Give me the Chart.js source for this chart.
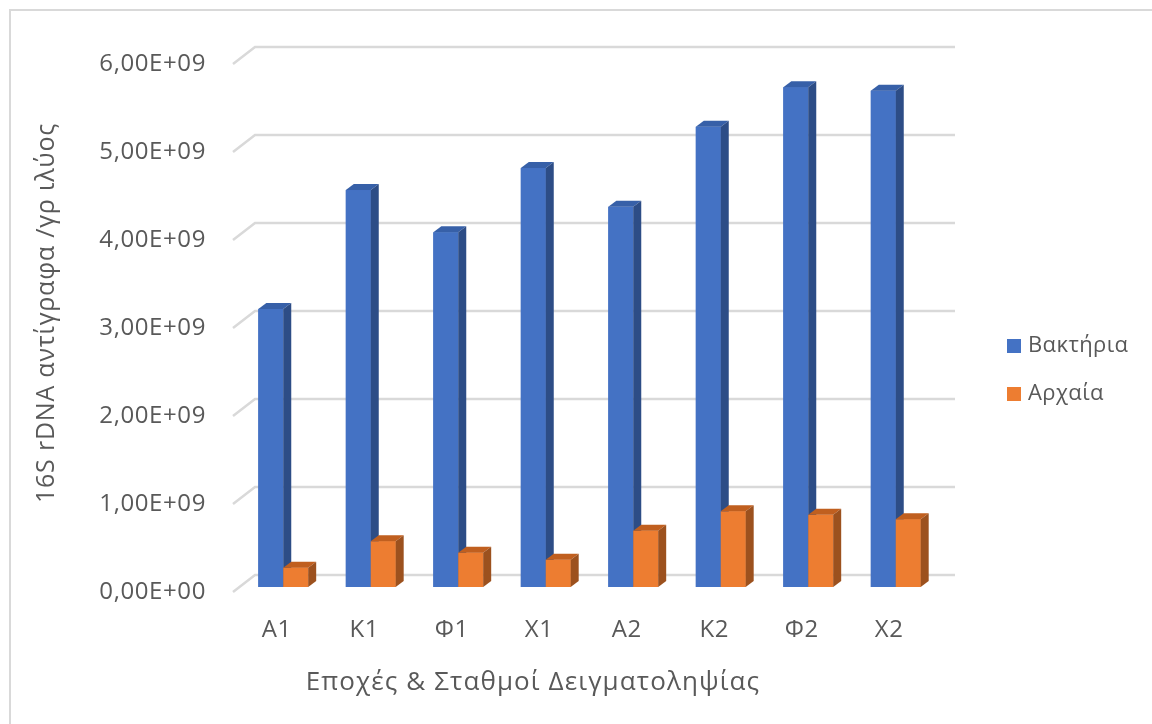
<!DOCTYPE html>
<html>
<head>
<meta charset="utf-8">
<script src="https://cdn.jsdelivr.net/npm/chart.js@4/dist/chart.umd.min.js"></script>
<style>
  html, body { margin: 0; padding: 0; background: #ffffff; }
  #wrap { position: relative; width: 1152px; height: 724px; }
</style>
</head>
<body>
<div id="wrap"><canvas id="c" width="1152" height="724"></canvas></div>
<script>
// Sampling stations / seasons
const categories = ['Α1', 'Κ1', 'Φ1', 'Χ1', 'Α2', 'Κ2', 'Φ2', 'Χ2'];
// 16S rDNA copies per gram of sediment
const bacteria = [3.16e9, 4.51e9, 4.03e9, 4.76e9, 4.32e9, 5.23e9, 5.68e9, 5.64e9];
const archaea  = [0.22e9, 0.52e9, 0.39e9, 0.31e9, 0.64e9, 0.86e9, 0.82e9, 0.77e9];
// Value axis
const yTickValues = [0, 1e9, 2e9, 3e9, 4e9, 5e9, 6e9];
const yTickLabels = ['0,00E+00', '1,00E+09', '2,00E+09', '3,00E+09', '4,00E+09', '5,00E+09', '6,00E+09'];
const seriesNames = ['Βακτήρια', 'Αρχαία'];
const yTitle = '16S rDNA αντίγραφα /γρ ιλύος';
const xTitle = 'Εποχές & Σταθμοί Δειγματοληψίας';

const FONT = '"Open Sans", "Noto Sans", sans-serif';
const TEXT = '#595959';
const GRID = '#d9d9d9';

// perspective offsets (bar plane -> back wall / front edge / bar depth)
const BACK = { dx: 15.5, dy: -12 };
const FRONT = { dx: -6.5, dy: 5 };
const DEPTH = { dx: 8, dy: -6 };

const faces = [
  { front: '#4472c4', side: '#2d4d86', top: '#3760a8' },
  { front: '#ed7d31', side: '#9c511e', top: '#c05f1f' }
];

function text(ctx, str, x, y, size, spacing, align) {
  ctx.font = size + 'px ' + FONT;
  ctx.letterSpacing = spacing + 'px';
  ctx.textAlign = align;
  ctx.textBaseline = 'middle';
  ctx.fillText(str, x, y);
}

const depthPlugin = {
  id: 'depth3d',
  beforeDatasetsDraw(chart) {
    const ctx = chart.ctx;
    const y = chart.scales.y;
    const x = chart.scales.x;
    const area = chart.chartArea;
    ctx.save();
    // outer frame
    ctx.strokeStyle = GRID;
    ctx.lineWidth = 2;
    ctx.beginPath();
    ctx.moveTo(10, 724);
    ctx.lineTo(10, 10);
    ctx.lineTo(1152, 10);
    ctx.stroke();
    // back wall gridlines with diagonal returns to the front edge
    ctx.lineWidth = 2.5;
    ctx.fillStyle = TEXT;
    yTickValues.forEach((v, i) => {
      const py = y.getPixelForValue(v);
      ctx.beginPath();
      ctx.moveTo(area.left + FRONT.dx, py + FRONT.dy);
      ctx.lineTo(area.left + BACK.dx, py + BACK.dy);
      ctx.lineTo(area.right + BACK.dx, py + BACK.dy);
      ctx.stroke();
      text(ctx, yTickLabels[i], 206, py + FRONT.dy, 24, 0.6, 'right');
    });
    // category labels on the front edge
    categories.forEach((c, i) => {
      text(ctx, c, x.getPixelForValue(i) + FRONT.dx, 630, 24, 0.6, 'center');
    });
    // axis titles
    text(ctx, xTitle, 533, 683, 26, 1.1, 'center');
    ctx.save();
    ctx.translate(47, 313);
    ctx.rotate(-Math.PI / 2);
    text(ctx, yTitle, 0, 0, 25, 0.8, 'center');
    ctx.restore();
    // legend
    seriesNames.forEach((n, i) => {
      const cy = 346 + i * 48;
      ctx.fillStyle = faces[i].front;
      ctx.fillRect(1007, cy - 7, 14, 14);
      ctx.fillStyle = TEXT;
      text(ctx, n, 1028, cy, 22, 0.4, 'left');
    });
    ctx.restore();
  },
  afterDatasetsDraw(chart) {
    const ctx = chart.ctx;
    ctx.save();
    // paint series left to right so each block covers its neighbour's side face
    chart.data.datasets.forEach((ds, di) => {
      const f = faces[di];
      chart.getDatasetMeta(di).data.forEach(bar => {
        const p = bar.getProps(['x', 'y', 'base', 'width'], true);
        const x0 = p.x - p.width / 2, x1 = p.x + p.width / 2;
        const yt = p.y, yb = p.base;
        // front face
        ctx.fillStyle = f.front;
        ctx.fillRect(x0, yt, x1 - x0, yb - yt);
        // top face
        ctx.fillStyle = f.top;
        ctx.beginPath();
        ctx.moveTo(x0, yt);
        ctx.lineTo(x0 + DEPTH.dx, yt + DEPTH.dy);
        ctx.lineTo(x1 + DEPTH.dx, yt + DEPTH.dy);
        ctx.lineTo(x1, yt);
        ctx.closePath();
        ctx.fill();
        // side face
        ctx.fillStyle = f.side;
        ctx.beginPath();
        ctx.moveTo(x1, yt);
        ctx.lineTo(x1 + DEPTH.dx, yt + DEPTH.dy);
        ctx.lineTo(x1 + DEPTH.dx, yb + DEPTH.dy);
        ctx.lineTo(x1, yb);
        ctx.closePath();
        ctx.fill();
      });
    });
    ctx.restore();
  }
};

new Chart(document.getElementById('c'), {
  type: 'bar',
  data: {
    labels: categories,
    datasets: [
      { label: seriesNames[0], data: bacteria, backgroundColor: faces[0].front,
        categoryPercentage: 0.57, barPercentage: 1.0 },
      { label: seriesNames[1], data: archaea, backgroundColor: faces[1].front,
        categoryPercentage: 0.57, barPercentage: 1.0 }
    ]
  },
  options: {
    responsive: false,
    animation: false,
    layout: { padding: { left: 239.5, right: 212.5, top: 59, bottom: 137 } },
    scales: {
      x: { display: false },
      y: { display: false, min: 0, max: 6e9 }
    },
    plugins: {
      legend: { display: false },
      tooltip: { enabled: false }
    }
  },
  plugins: [depthPlugin]
});
</script>
</body>
</html>
